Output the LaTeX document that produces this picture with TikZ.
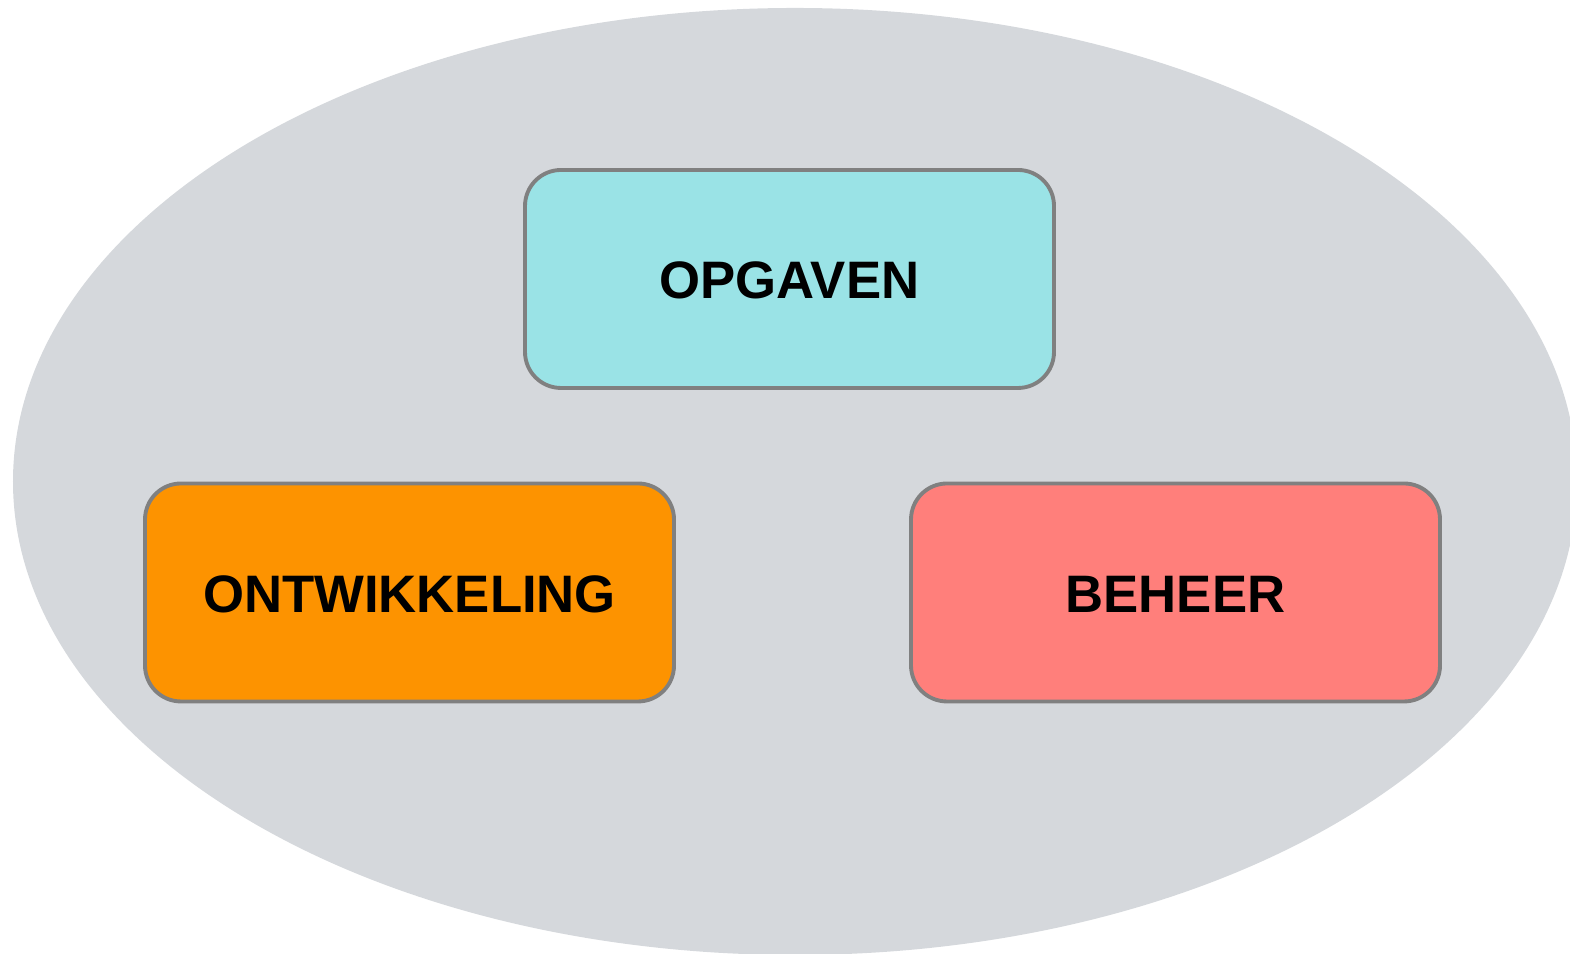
\documentclass[tikz,border=0pt]{standalone}
\usepackage{fontspec}
\setmainfont{Liberation Sans}
\definecolor{achtergrond}{HTML}{D5D8DC}
\definecolor{rand}{HTML}{808080}
\definecolor{opgavenkleur}{HTML}{9AE3E6}
\definecolor{ontwikkelkleur}{HTML}{FD9300}
\definecolor{beheerkleur}{HTML}{FF7F7B}
\tikzset{
    blok/.style={rectangle, rounded corners=0.36cm, draw=rand, line width=1.1pt,
        minimum width=5.29cm, minimum height=2.18cm, inner sep=0pt,
        text height=11.2pt, text depth=0pt,
        font=\fontsize{15}{18}\selectfont\bfseries}
}
\begin{document}
\begin{tikzpicture}
        \clip (0,0) rectangle (15.7,9.54);
        \fill[achtergrond] (7.95,4.725) ellipse [x radius=7.82, y radius=4.735];

        \node[blok, fill=opgavenkleur] (opgaven) at (7.895, 6.75) {OPGAVEN};
        \node[blok, fill=ontwikkelkleur] (ontwikkeling) at (4.095, 3.615) {ONTWIKKELING};
        \node[blok, fill=beheerkleur] (beheer) at (11.755, 3.615) {BEHEER};

    \end{tikzpicture}
\end{document}
